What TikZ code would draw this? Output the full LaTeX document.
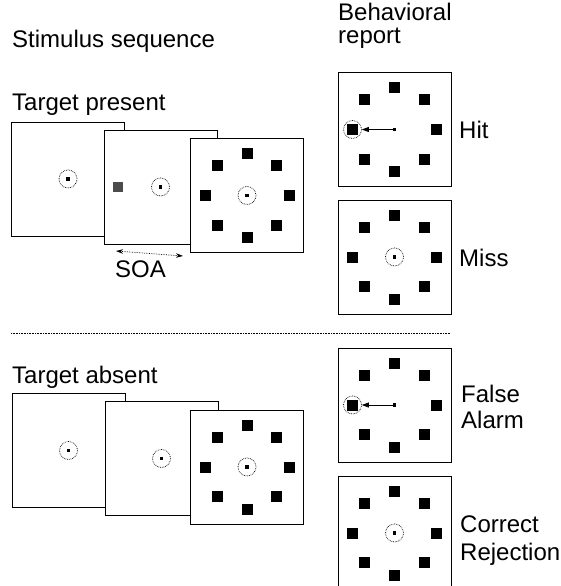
\documentclass[tikz,border=0pt]{standalone}
\usepackage{fontspec}
\setmainfont{Liberation Sans}
\usetikzlibrary{arrows.meta}

\begin{document}
\begin{tikzpicture}[x=1pt,y=-1pt,
      screen/.style={draw,line width=0.9pt,fill=white,minimum width=113pt,minimum height=114pt,inner sep=0pt},
      item/.style={fill=black,minimum size=11pt,inner sep=0pt},
      fix/.style={fill=black,minimum size=3.5pt,inner sep=0pt},
      ring/.style={draw,densely dotted,line width=0.7pt,circle,minimum size=18pt,inner sep=0pt},
      lab/.style={font=\fontsize{24}{27}\selectfont,anchor=base west,inner sep=0pt,align=left}]
    \useasboundingbox (0,0) rectangle (560,586);
    % --- headings ---
    \node[lab] (stim) at (12,48) {Stimulus sequence};
    \node[lab,font=\fontsize{24}{23}\selectfont] (beh) at (338,44) {Behavioral\\report};
    % --- target present ---
    \node[lab] (tp) at (12,110) {Target present};
    \foreach \i/\x/\y in {1/68/179, 2/160.5/187, 3/247/195.5}{
      \node[screen] (p\i) at (\x,\y) {};
      \node[fix] (pf\i) at (p\i) {};
      \node[ring] (pr\i) at (p\i) {};
    }
    \node[item,fill=black!70,minimum size=10pt] (pt) at ([xshift=-43pt]p2) {};
    \foreach \a in {0,45,...,315}
      \node[item] at ([shift={(\a:42)}]p3) {};
    \coordinate (soaL) at (116,251);
    \coordinate (soaR) at (183,256);
    \draw[densely dotted,line width=0.7pt,{Stealth[length=7pt,width=4.5pt]}-{Stealth[length=7pt,width=4.5pt]}] (soaL) -- (soaR);
    \node[lab] (soa) at (115,277) {SOA};
    % --- separator ---
    \coordinate (sepL) at (11,333);
    \coordinate (sepR) at (450,333);
    \draw[densely dotted,line width=0.6pt] (sepL) -- (sepR);
    % --- target absent ---
    \node[lab] (ta) at (12,383) {Target absent};
    \foreach \i/\x/\y in {1/68.5/450.5, 2/161.5/458.5, 3/247/467}{
      \node[screen] (a\i) at (\x,\y) {};
      \node[fix] (af\i) at (a\i) {};
      \node[ring] (ar\i) at (a\i) {};
    }
    \foreach \a in {0,45,...,315}
      \node[item] at ([shift={(\a:42)}]a3) {};
    % --- behavioral report ---
    \foreach \s/\y in {hit/129.5, miss/257, fa/405, cr/533}{
      \node[screen] (\s) at (394.5,\y) {};
      \node[fix] (\s-f) at (\s) {};
      \foreach \a in {0,45,...,315}
        \node[item] (\s-\a) at ([shift={(\a:42)}]\s) {};
    }
    \node[ring] (miss-r) at (miss) {};
    \node[ring] (cr-r) at (cr) {};
    \node[ring] (hit-r) at (hit-180) {};
    \node[ring] (fa-r) at (fa-180) {};
    \draw[line width=0.7pt,-{Triangle[length=7pt,width=5pt]}] (hit-f) -- (hit-r);
    \draw[line width=0.7pt,-{Triangle[length=7pt,width=5pt]}] (fa-f) -- (fa-r);
    \node[lab] (hitl) at (459,138) {Hit};
    \node[lab] (missl) at (459,266) {Miss};
    \node[lab,font=\fontsize{24}{26}\selectfont] (fal) at (461,428) {False\\Alarm};
    \node[lab,font=\fontsize{24}{28}\selectfont] (crl) at (460,560) {Correct\\Rejection};
  \end{tikzpicture}
\end{document}
